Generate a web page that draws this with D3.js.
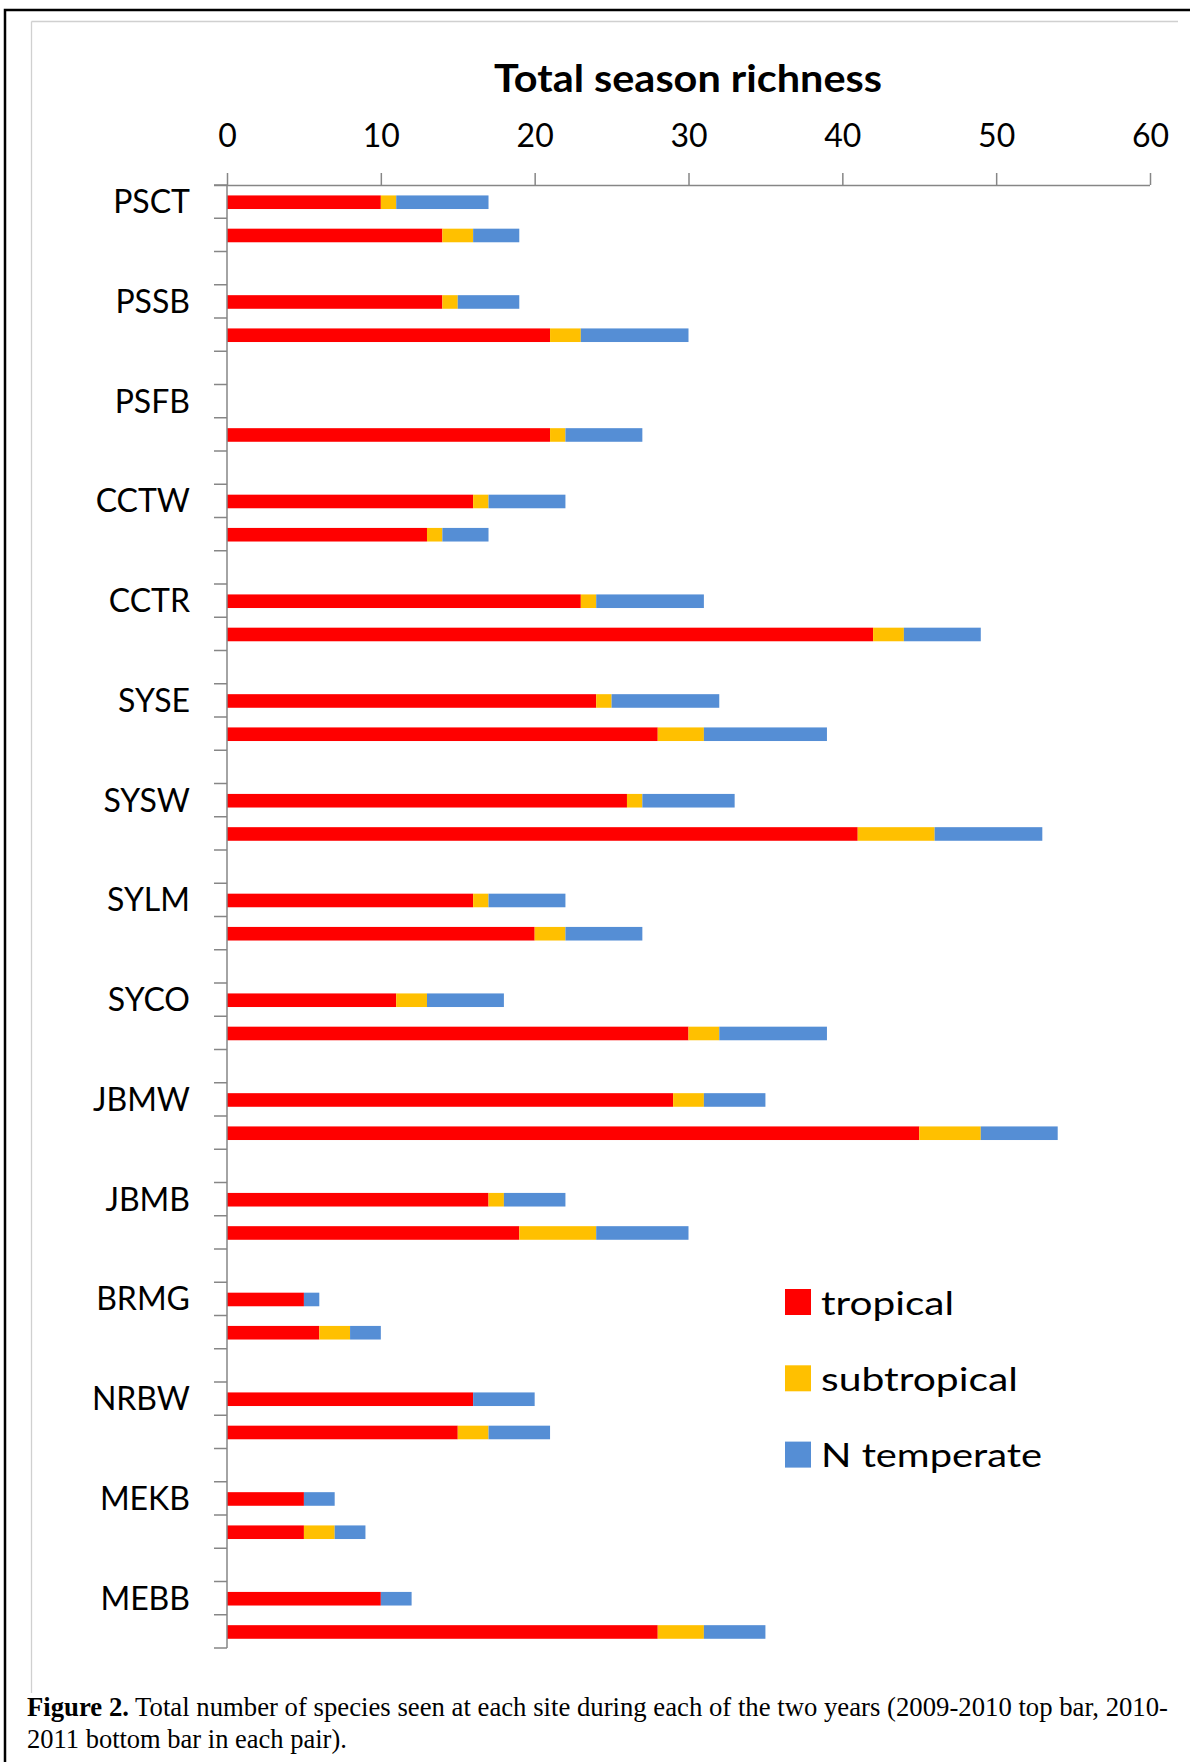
<!DOCTYPE html>
<html><head><meta charset="utf-8">
<script src="https://cdn.jsdelivr.net/npm/d3@7"></script>
<style>body{margin:0;background:#fff} svg{display:block}</style>
</head><body><svg id="c" width="1190" height="1762"></svg>
<script>
const sites = ["PSCT","PSSB","PSFB","CCTW","CCTR","SYSE","SYSW","SYLM","SYCO","JBMW","JBMB","BRMG","NRBW","MEKB","MEBB"];
const seriesNames = ["tropical","subtropical","N temperate"];
const seriesColors = ["#FF0000","#FFC000","#558ED5"];
// 2009-2010 (top bar of each pair)
const tropical1    = [10,14, 0,16,23,24,26,16,11,29,17, 5,16, 5,10];
const subtropical1 = [ 1, 1, 0, 1, 1, 1, 1, 1, 2, 2, 1, 0, 0, 0, 0];
const temperate1   = [ 6, 4, 0, 5, 7, 7, 6, 5, 5, 4, 4, 1, 4, 2, 2];
// 2010-2011 (bottom bar of each pair)
const tropical2    = [14,21,21,13,42,28,41,20,30,45,19, 6,15, 5,28];
const subtropical2 = [ 2, 2, 1, 1, 2, 3, 5, 2, 2, 4, 5, 2, 2, 2, 3];
const temperate2   = [ 3, 7, 5, 3, 5, 8, 7, 5, 7, 5, 6, 2, 4, 2, 4];
const xTicks = [0,10,20,30,40,50,60];
const chartTitle = "Total season richness";
const captionBold = "Figure 2.";
const captionLine1 = " Total number of species seen at each site during each of the two years (2009-2010 top bar, 2010-";
const captionLine2 = "2011 bottom bar in each pair).";

const svg = d3.select("#c");
const FONT = "Lato, 'Noto Sans', sans-serif";
const SERIF = "'Liberation Serif','Times New Roman',serif";

// frames
svg.append("rect").attr("x",5).attr("y",10).attr("width",1200).attr("height",1800)
  .attr("fill","none").attr("stroke","#000").attr("stroke-width",2.5);
svg.append("line").attr("x1",31.5).attr("x2",1178).attr("y1",21.5).attr("y2",21.5).attr("stroke","#d0d0d0").attr("stroke-width",1.3);
svg.append("line").attr("x1",31.5).attr("x2",31.5).attr("y1",21.5).attr("y2",1693).attr("stroke","#d0d0d0").attr("stroke-width",1.3);

// rows / slots
const slots = [];
const rows = [];
sites.forEach((s,i)=>{
  rows.push({key:s+"|1", site:s, first:true, tropical:tropical1[i], subtropical:subtropical1[i], "N temperate":temperate1[i]});
  rows.push({key:s+"|2", site:s, first:false, tropical:tropical2[i], subtropical:subtropical2[i], "N temperate":temperate2[i]});
  slots.push(s+"|1", s+"|2");
  if (i < sites.length-1) slots.push(s+"|gap");
});

const x = d3.scaleLinear().domain([0,60]).range([227,1150]);
const y = d3.scaleBand().domain(slots).range([185,1648]).paddingInner(0).paddingOuter(0);
const barH = 13.6;

const stack = d3.stack().keys(seriesNames)(rows);
const color = d3.scaleOrdinal().domain(seriesNames).range(seriesColors);

svg.append("g").selectAll("g").data(stack).join("g").attr("fill",d=>color(d.key))
  .selectAll("rect").data(d=>d).join("rect")
  .attr("x",d=>x(d[0])).attr("width",d=>x(d[1])-x(d[0]))
  .attr("y",d=>y(d.data.key)+ (y.bandwidth()-barH)/2+0.6).attr("height",barH);

// x axis (top)
const xAxis = d3.axisTop(x).tickValues(xTicks).tickSize(12).tickPadding(26).tickFormat(d3.format("d"));
const gx = svg.append("g").attr("transform","translate(0,185)").call(xAxis);
gx.select(".domain").attr("stroke","#868686").attr("stroke-width",1.5).attr("d","M214,0.5H1150");
gx.selectAll(".tick line").attr("stroke","#868686").attr("stroke-width",1.5);
gx.selectAll(".tick text").attr("fill","#000").style("font-family",FONT).style("font-size","32px");

// y axis (left) with ticks at slot boundaries
const gy = svg.append("g");
gy.append("line").attr("x1",227).attr("x2",227).attr("y1",185).attr("y2",1648).attr("stroke","#868686").attr("stroke-width",1.5);
const bounds = slots.map(s=>y(s)).concat([y.range()[1]]);
gy.selectAll("line.t").data(bounds).join("line").attr("class","t")
  .attr("x1",214).attr("x2",227).attr("y1",d=>d).attr("y2",d=>d).attr("stroke","#868686").attr("stroke-width",1.5);
gy.selectAll("text").data(rows.filter(r=>r.first)).join("text")
  .attr("x",190).attr("y",d=>y(d.key)+y.bandwidth()/2+11.5)
  .attr("text-anchor","end").style("font-family",FONT).style("font-size","32px").text(d=>d.site);

// title
svg.append("text").attr("x",688).attr("y",92).attr("text-anchor","middle")
  .style("font-family",FONT).style("font-weight","bold").style("font-size","38px")
  .attr("textLength",388).attr("lengthAdjust","spacingAndGlyphs").text(chartTitle);

// legend
const legendW = [133,197,221];
const lg = svg.append("g").selectAll("g").data(seriesNames).join("g")
  .attr("transform",(d,i)=>`translate(785,${1289+i*76.3})`);
lg.append("rect").attr("width",26).attr("height",26).attr("fill",d=>color(d));
lg.append("text").attr("x",36).attr("y",25.5).style("font-family",FONT).style("font-size","33px")
  .attr("textLength",(d,i)=>legendW[i]).attr("lengthAdjust","spacingAndGlyphs").text(d=>d);

// caption
const cap = svg.append("text").attr("x",27).attr("y",1716).style("font-family",SERIF).style("font-size","26.5px")
  .attr("textLength",1141).attr("lengthAdjust","spacingAndGlyphs");
cap.append("tspan").style("font-weight","bold").text(captionBold);
cap.append("tspan").text(captionLine1);
svg.append("text").attr("x",27).attr("y",1748).style("font-family",SERIF).style("font-size","26.5px").text(captionLine2);
</script></body></html>
